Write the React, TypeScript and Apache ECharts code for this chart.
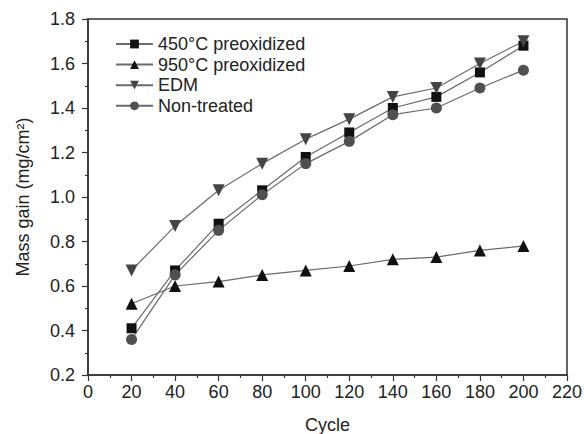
import React, { useEffect, useRef } from "react";
import * as echarts from "echarts";

const cycles = [20, 40, 60, 80, 100, 120, 140, 160, 180, 200];
const pre450 = [0.41, 0.67, 0.88, 1.03, 1.18, 1.29, 1.40, 1.45, 1.56, 1.68];
const pre950 = [0.52, 0.60, 0.62, 0.65, 0.67, 0.69, 0.72, 0.73, 0.76, 0.78];
const edm = [0.67, 0.87, 1.03, 1.15, 1.26, 1.35, 1.45, 1.49, 1.60, 1.70];
const nonTreated = [0.36, 0.65, 0.85, 1.01, 1.15, 1.25, 1.37, 1.40, 1.49, 1.57];
const seriesNames = ["450°C preoxidized", "950°C preoxidized", "EDM", "Non-treated"];

const FONT = "Liberation Sans, Arial, sans-serif";

export default function App() {
  const ref = useRef<HTMLDivElement>(null);
  useEffect(() => {
    if (!ref.current) return;
    const chart = echarts.init(ref.current, null, { renderer: "svg" });
    const pair = (ys: number[]) => cycles.map((c, i) => [c, ys[i]]);
    const lineColor = "#6a6a6a";
    const mk = (name: string, ys: number[], symbol: string, size: number, color: string, rotate = 0) => ({
      name,
      type: "line",
      data: pair(ys),
      symbol,
      symbolSize: size,
      symbolRotate: rotate,
      showAllSymbol: true,
      lineStyle: { color: lineColor, width: 1.2 },
      itemStyle: { color, borderWidth: 0 },
      emphasis: { disabled: true },
    });
    chart.setOption({
      animation: false,
      backgroundColor: "#fff",
      textStyle: { fontFamily: FONT },
      grid: {
        left: 88,
        right: 17,
        top: 19,
        bottom: 59,
        outerBoundsMode: "none",
        containLabel: false,
        show: true,
        borderColor: "#333",
        borderWidth: 1.5,
        backgroundColor: "transparent",
      },
      legend: {
        orient: "vertical",
        left: 110,
        top: 30,
        itemWidth: 37,
        itemHeight: 11,
        itemGap: 2.6,
        data: seriesNames,
        textStyle: { fontSize: 18, color: "#222", fontFamily: FONT },
      },
      xAxis: {
        type: "value",
        min: 0,
        max: 220,
        interval: 20,
        name: "Cycle",
        nameLocation: "middle",
        nameGap: 41,
        nameTextStyle: { fontSize: 18, color: "#222", fontFamily: FONT },
        axisLine: { show: true, lineStyle: { color: "#333", width: 1.5 } },
        axisTick: { show: true, inside: false, length: 6, lineStyle: { color: "#333", width: 1.2 } },
        minorTick: { show: true, splitNumber: 2, length: 3, lineStyle: { color: "#333", width: 1.2 } },
        axisLabel: { fontSize: 18, color: "#222", margin: 8, fontFamily: FONT },
        splitLine: { show: false },
      },
      yAxis: {
        type: "value",
        min: 0.2,
        max: 1.8,
        interval: 0.2,
        name: "Mass gain (mg/cm²)",
        nameLocation: "middle",
        nameGap: 56,
        nameTextStyle: { fontSize: 18, color: "#222", fontFamily: FONT },
        axisLine: { show: true, lineStyle: { color: "#333", width: 1.5 } },
        axisTick: { show: true, inside: false, length: 6, lineStyle: { color: "#333", width: 1.2 } },
        minorTick: { show: true, splitNumber: 2, length: 3, lineStyle: { color: "#333", width: 1.2 } },
        axisLabel: {
          fontSize: 18,
          color: "#222",
          margin: 13,
          fontFamily: FONT,
          formatter: (v: number) => v.toFixed(1),
        },
        splitLine: { show: false },
      },
      series: [
        mk(seriesNames[0], pre450, "rect", 10, "#111"),
        mk(seriesNames[1], pre950, "triangle", 12, "#111"),
        mk(seriesNames[2], edm, "triangle", 12, "#444", 180),
        mk(seriesNames[3], nonTreated, "circle", 11, "#505050"),
      ],
    });
    return () => chart.dispose();
  }, []);
  return (
    <div
      ref={ref}
      style={{ width: 584, height: 434, position: "fixed", left: 0, top: 0 }}
    />
  );
}
